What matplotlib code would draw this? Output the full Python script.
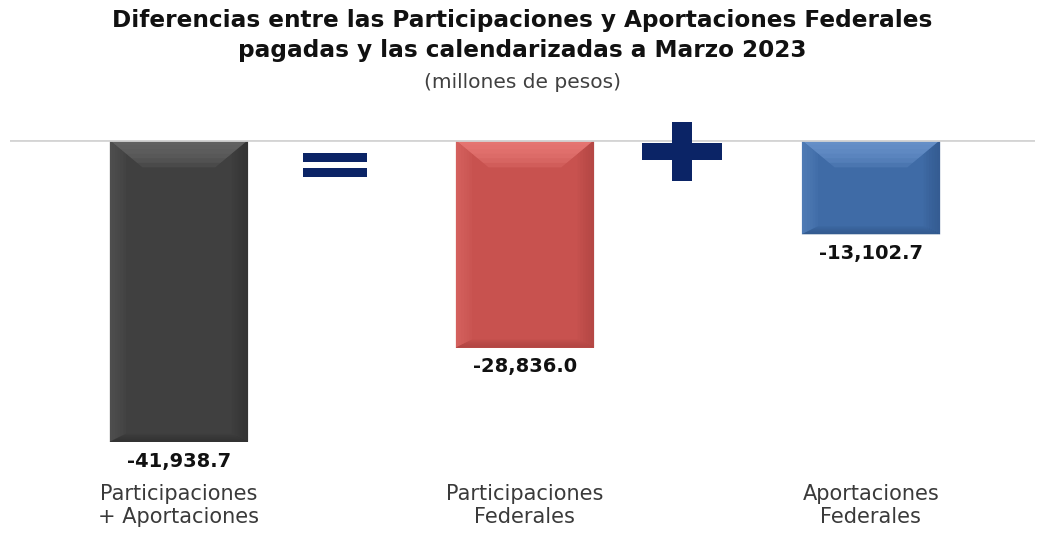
import matplotlib.pyplot as plt
from matplotlib.patches import Polygon, Rectangle

# data (millones de pesos)
categorias = ["Participaciones\n+ Aportaciones", "Participaciones\nFederales", "Aportaciones\nFederales"]
valores = [-41938.7, -28836.0, -13102.7]
colores = ["#404040", "#c8524f", "#3f6ba6"]
claros = ["#6a6a6a", "#ec7e7a", "#6e98d0"]
oscuros = ["#2e2e2e", "#a84240", "#2f5486"]

W, H = 1045, 537
fig = plt.figure(figsize=(W / 100, H / 100), dpi=100)
fig.patch.set_facecolor("white")

# axes placed in pixels: top edge = zero line
top, bottom = 140, 470
ax = fig.add_axes([10 / W, (H - bottom) / H, 1025 / W, (bottom - top) / H])
ax.set_xlim(-0.488, 2.474)
ax.set_ylim(-45830, 0)
ax.axis("off")

x = list(range(len(valores)))
bars = ax.bar(x, valores, width=0.4, color=colores, zorder=2)

# bevel look, built up in a few soft layers
bx = 0.095
by = 3800
n = 6
for b, cl, co in zip(bars, claros, oscuros):
    x0 = b.get_x()
    x1 = x0 + b.get_width()
    y0 = 0
    y1 = b.get_height()
    for k in range(1, n + 1):
        f = k / n
        dx, dy = bx * f, by * f
        # top light band
        ax.add_patch(Polygon([(x0, y0), (x1, y0), (x1 - dx, y0 - dy), (x0 + dx, y0 - dy)],
                             closed=True, color=cl, alpha=0.26, lw=0, zorder=3))
        # left side slightly lighter
        ax.add_patch(Polygon([(x0, y0), (x0 + dx * 0.5, y0 - dy * 0.5), (x0 + dx * 0.5, y1 + dy * 0.3), (x0, y1)],
                             closed=True, color=cl, alpha=0.08, lw=0, zorder=3))
        # right side darker
        ax.add_patch(Polygon([(x1, y0), (x1 - dx * 0.5, y0 - dy * 0.5), (x1 - dx * 0.5, y1 + dy * 0.3), (x1, y1)],
                             closed=True, color=co, alpha=0.12, lw=0, zorder=3))
        # bottom darker
        ax.add_patch(Polygon([(x0, y1), (x1, y1), (x1 - dx * 0.5, y1 + dy * 0.3), (x0 + dx * 0.5, y1 + dy * 0.3)],
                             closed=True, color=co, alpha=0.15, lw=0, zorder=3))

# zero line
ax.axhline(0, color="#d4d4d4", lw=2, zorder=4)

# value labels
for xi, v in zip(x, valores):
    ax.annotate(f"{v:,.1f}", (xi, v), xytext=(0, -7), textcoords="offset points",
                ha="center", va="top", fontsize=14, fontweight="bold", color="#111111")

# category labels
for xi, c in zip(x, categorias):
    fig.text((10 + (xi + 0.488) * 346) / W, 1 - 484 / H, c, ha="center", va="top",
             fontsize=15, color="#3a3a3a", linespacing=1.2)

# equals and plus signs
navy = "#0b2466"
ax.add_patch(Rectangle((0.36, -1800), 0.185, -1250, color=navy, lw=0, zorder=5, clip_on=False))
ax.add_patch(Rectangle((0.36, -3900), 0.185, -1250, color=navy, lw=0, zorder=5, clip_on=False))
ax.add_patch(Rectangle((1.338, -400), 0.232, -2400, color=navy, lw=0, zorder=5, clip_on=False))
ax.add_patch(Rectangle((1.425, 2500), 0.058, -8200, color=navy, lw=0, zorder=5, clip_on=False))

# titles
fig.text(0.5, 1 - 20 / H, "Diferencias entre las Participaciones y Aportaciones Federales",
         ha="center", va="center", fontsize=16.7, fontweight="bold", color="#111111")
fig.text(0.5, 1 - 51 / H, "pagadas y las calendarizadas a Marzo 2023",
         ha="center", va="center", fontsize=16.7, fontweight="bold", color="#111111")
fig.text(0.5, 1 - 82 / H, "(millones de pesos)", ha="center", va="center",
         fontsize=14.5, color="#404040")

fig.savefig("out.png", dpi=100, facecolor="white")
